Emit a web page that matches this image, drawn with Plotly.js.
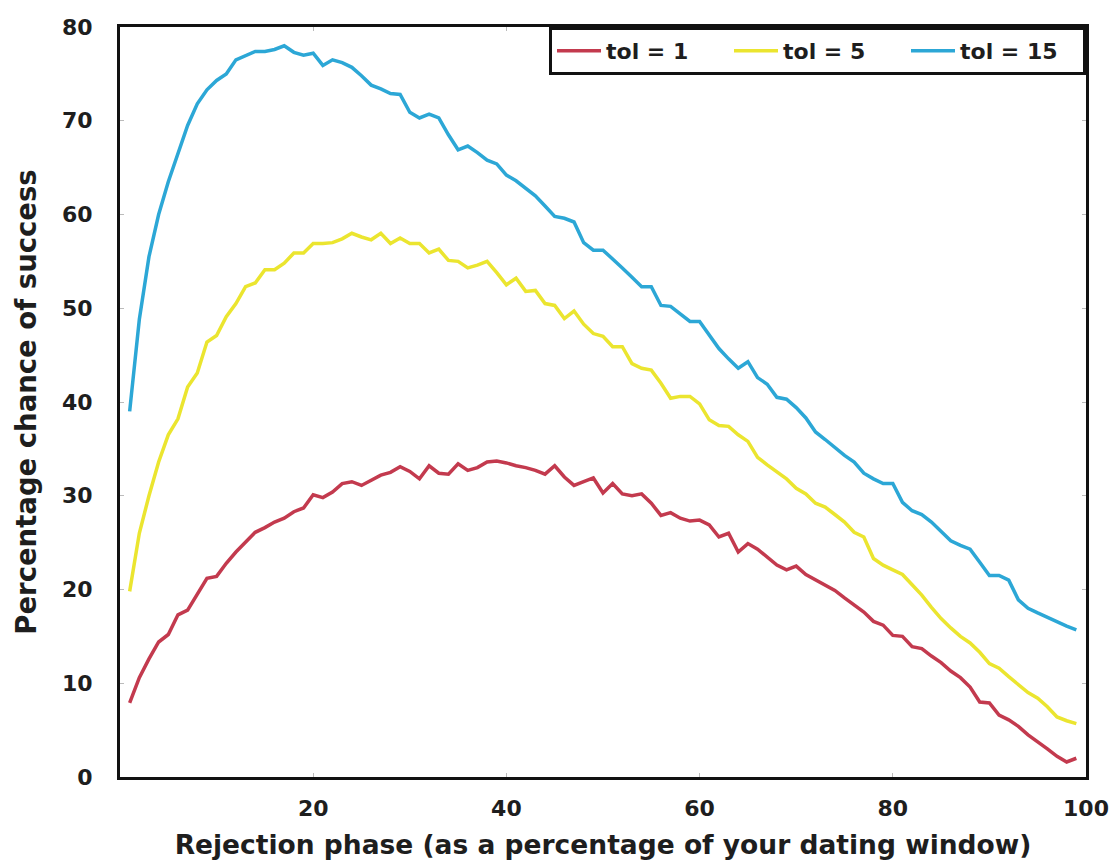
<!DOCTYPE html>
<html>
<head>
<meta charset="utf-8">
<script src="https://cdn.plot.ly/plotly-3.0.1.min.js"></script>
<style>html,body{margin:0;padding:0;background:#fff;}#chart{width:1114px;height:864px;}</style>
</head>
<body>
<div id="chart"></div>
<script>
const rejectionPhase = Array.from({length: 99}, (_, i) => i + 1);

const tol1 = [7.9,10.6,12.6,14.4,15.2,17.3,17.8,19.5,21.2,21.4,
  22.8,24.0,25.0,26.1,26.6,27.2,27.6,28.3,28.7,30.1,
  29.8,30.4,31.3,31.5,31.1,31.6,32.2,32.5,33.1,32.6,
  31.8,33.2,32.4,32.3,33.4,32.7,33.0,33.6,33.7,33.5,
  33.2,33.0,32.7,32.3,33.2,32.0,31.1,31.5,31.9,30.3,
  31.3,30.2,30.0,30.2,29.2,27.9,28.2,27.6,27.3,27.4,
  26.9,25.6,26.0,24.0,24.9,24.3,23.4,22.6,22.1,22.5,
  21.6,21.0,20.5,19.9,19.1,18.4,17.6,16.6,16.2,15.1,
  15.0,13.9,13.7,12.9,12.2,11.3,10.6,9.6,8.0,7.9,
  6.6,6.1,5.4,4.5,3.8,3.0,2.2,1.6,2.0];

const tol5 = [19.8,26.0,30.0,33.6,36.5,38.2,41.6,43.1,46.4,47.1,
  49.1,50.5,52.3,52.7,54.1,54.1,54.8,55.9,55.9,56.9,
  56.9,57.0,57.4,58.0,57.6,57.3,58.0,56.9,57.5,56.9,
  56.9,55.9,56.3,55.1,55.0,54.3,54.6,55.0,53.8,52.5,
  53.2,51.8,51.9,50.5,50.3,48.9,49.7,48.3,47.3,47.0,
  45.9,45.9,44.1,43.6,43.4,42.0,40.4,40.6,40.6,39.8,
  38.1,37.5,37.4,36.5,35.8,34.1,33.3,32.6,31.8,30.8,
  30.2,29.2,28.8,28.0,27.2,26.1,25.6,23.3,22.6,22.1,
  21.6,20.5,19.4,18.1,16.9,15.9,15.0,14.3,13.3,12.1,
  11.6,10.7,9.8,9.0,8.4,7.5,6.4,6.0,5.7];

const tol15 = [39.0,48.8,55.5,60.0,63.5,66.5,69.5,71.8,73.3,74.3,
  75.0,76.5,77.0,77.4,77.4,77.6,78.0,77.3,77.0,77.2,
  75.9,76.5,76.2,75.7,74.8,73.8,73.4,72.9,72.8,70.9,
  70.3,70.7,70.3,68.5,66.9,67.3,66.6,65.8,65.4,64.2,
  63.6,62.8,62.0,60.9,59.8,59.6,59.2,57.0,56.2,56.2,
  55.3,54.3,53.3,52.3,52.3,50.3,50.2,49.4,48.6,48.6,
  47.2,45.7,44.6,43.6,44.3,42.6,41.9,40.5,40.3,39.4,
  38.3,36.8,36.0,35.1,34.3,33.6,32.4,31.8,31.3,31.3,
  29.3,28.4,28.0,27.2,26.2,25.2,24.7,24.3,22.9,21.5,
  21.5,21.0,18.9,18.0,17.5,17.0,16.5,16.1,15.7];

const seriesNames = ['tol = 1', 'tol = 5', 'tol = 15'];
const seriesColors = ['#c33a4e', '#ebe52f', '#2ca7d6'];
const xTicks = [20, 40, 60, 80, 100];
const yTicks = [0, 10, 20, 30, 40, 50, 60, 70, 80];

const fontFam = '"DejaVu Sans", sans-serif';
const textColor = '#1e1e1e';
const traces = [tol1, tol5, tol15].map((ys, i) => ({
  x: rejectionPhase, y: ys, type: 'scatter', mode: 'lines',
  name: seriesNames[i],
  line: {color: seriesColors[i], width: 3.5}
}));

const axisCommon = {
  showline: true, linecolor: '#111', linewidth: 3, mirror: 'ticks',
  ticks: 'inside', ticklen: 4, tickcolor: '#bbb', tickwidth: 1,
  showgrid: false, zeroline: false,
  tickfont: {family: fontFam, size: 22, color: textColor, weight: 'bold'}
};

const layout = {
  width: 1114, height: 864,
  margin: {l: 120, r: 28, t: 27, b: 87},
  paper_bgcolor: '#fff', plot_bgcolor: '#fff',
  showlegend: true,
  legend: {
    orientation: 'h', x: 1, xanchor: 'right', y: 1, yanchor: 'top',
    bgcolor: '#fff', bordercolor: '#111', borderwidth: 3,
    font: {family: fontFam, size: 22, color: textColor, weight: 'bold'},
    entrywidth: 118, itemwidth: 44
  },
  xaxis: Object.assign({}, axisCommon, {
    range: [0, 100], tickvals: xTicks, ticklabelstandoff: 10,
    title: {text: 'Rejection phase (as a percentage of your dating window)', standoff: 16,
      font: {family: fontFam, size: 26.5, color: textColor, weight: 'bold'}}
  }),
  yaxis: Object.assign({}, axisCommon, {
    range: [0, 80], tickvals: yTicks, ticklabelstandoff: 20,
    title: {text: 'Percentage chance of success', standoff: 18,
      font: {family: fontFam, size: 27.5, color: textColor, weight: 'bold'}}
  })
};

Plotly.newPlot('chart', traces, layout, {displayModeBar: false, staticPlot: true});
</script>
</body>
</html>
